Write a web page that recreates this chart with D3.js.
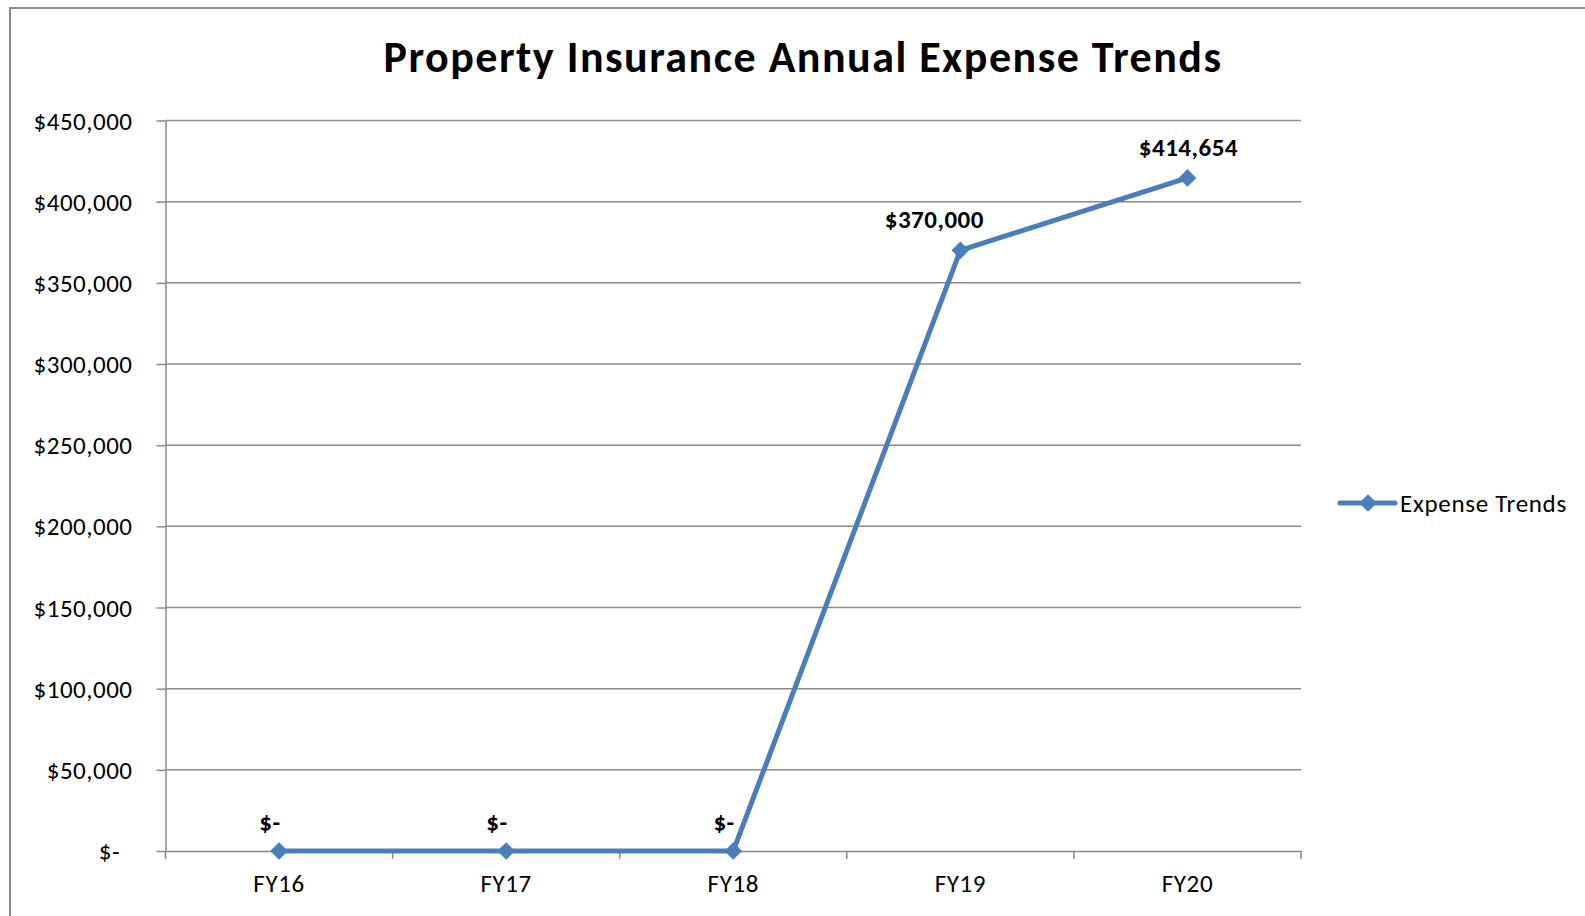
<!DOCTYPE html>
<html><head><meta charset="utf-8">
<script src="https://cdn.jsdelivr.net/npm/d3@7"></script>
<style>
html,body{margin:0;padding:0;background:#fff;overflow:hidden}
svg{display:block}
text{font-family:Carlito,Lato,"Open Sans",sans-serif;fill:#000}
</style></head>
<body>
<script>
const title = "Property Insurance Annual Expense Trends";
const categories = ["FY16","FY17","FY18","FY19","FY20"];
const values = [0, 0, 0, 370000, 414654];
const seriesName = "Expense Trends";
const yTicks = [0,50000,100000,150000,200000,250000,300000,350000,400000,450000];

const W = 1585, H = 916;
const svg = d3.select("body").append("svg").attr("width", W).attr("height", H);

// outer chart border (right/bottom run off the picture)
svg.append("rect").attr("x",10).attr("y",8).attr("width",1600).attr("height",940)
  .attr("fill","none").attr("stroke","#8c8c8c").attr("stroke-width",2);

const plot = {left:165.5, right:1301, top:120.5, bottom:851};
const x = d3.scaleBand().domain(categories).range([plot.left, plot.right]);
const y = d3.scaleLinear().domain([0,450000]).range([plot.bottom, plot.top]);

const fmt = v => v === 0 ? "$-\u00a0\u00a0" : "$" + d3.format(",")(v);
const grey = "#8a8a8a";

// gridlines
svg.append("g").selectAll("line").data(yTicks.filter(d=>d>0)).join("line")
  .attr("x1",plot.left).attr("x2",plot.right)
  .attr("y1",d=>y(d)).attr("y2",d=>y(d))
  .attr("stroke",grey).attr("stroke-width",1.5);

// y axis
const yAxis = svg.append("g").attr("transform",`translate(${plot.left},0)`)
  .call(d3.axisLeft(y).tickValues(yTicks).tickFormat(fmt).tickSizeOuter(0).tickSizeInner(9).tickPadding(24));
yAxis.select(".domain").attr("stroke",grey).attr("stroke-width",1.5);
yAxis.selectAll(".tick line").attr("stroke",grey).attr("stroke-width",1.5);
yAxis.selectAll(".tick text").attr("font-size",25).attr("letter-spacing",0.5)
  .attr("font-family",null).attr("fill","#000").attr("dy","0.34em");

// x axis
const xAxis = svg.append("g").attr("transform",`translate(0,${plot.bottom})`)
  .call(d3.axisBottom(x).tickSize(0).tickPadding(0));
xAxis.select(".domain").attr("stroke",grey).attr("stroke-width",1.5);
xAxis.selectAll(".tick text").attr("font-size",25).attr("letter-spacing",0.6)
  .attr("font-family",null).attr("fill","#000").attr("y",41).attr("dy",0);
// category boundary tick marks
const bounds = categories.map(c=>x(c)).concat([x(categories[categories.length-1])+x.bandwidth()]);
svg.append("g").selectAll("line").data(bounds).join("line")
  .attr("x1",d=>d).attr("x2",d=>d).attr("y1",plot.bottom).attr("y2",plot.bottom+8)
  .attr("stroke",grey).attr("stroke-width",1.5);

const cx = c => x(c) + x.bandwidth()/2;
const pts = categories.map((c,i)=>({c, v:values[i]}));
const color = "#4a7ebb";

svg.append("path").datum(pts)
  .attr("d", d3.line().x(d=>cx(d.c)).y(d=>y(d.v)))
  .attr("fill","none").attr("stroke",color).attr("stroke-width",5).attr("stroke-linejoin","round");

const diamond = d3.symbol().type(d3.symbolDiamond2).size(200);
svg.append("g").selectAll("path").data(pts).join("path")
  .attr("transform",d=>`translate(${cx(d.c)},${y(d.v)})`)
  .attr("d",diamond).attr("fill",color);

// data labels
const labelShift = {FY19:-27};
svg.append("g").selectAll("text").data(pts).join("text")
  .attr("x",d=>cx(d.c) + (labelShift[d.c]||0) + (d.v===0?-3:1))
  .attr("y",d=>y(d.v) - (d.v===0?20:22))
  .attr("text-anchor","middle").attr("font-size",25).attr("letter-spacing",0.5).attr("font-weight","bold")
  .text(d=>fmt(d.v));

// title
svg.append("text").attr("x",803).attr("y",72).attr("text-anchor","middle")
  .attr("font-size",44).attr("letter-spacing",1.5).attr("font-weight","bold").text(title);

// legend
const lg = svg.append("g");
lg.append("line").attr("x1",1340).attr("x2",1395).attr("y1",503).attr("y2",503)
  .attr("stroke",color).attr("stroke-width",5).attr("stroke-linecap","round");
lg.append("path").attr("transform","translate(1368,503)").attr("d",diamond).attr("fill",color);
lg.append("text").attr("x",1400).attr("y",503).attr("dy","0.36em").attr("font-size",25)
  .attr("letter-spacing",0.7).text(seriesName);
</script>
</body></html>
